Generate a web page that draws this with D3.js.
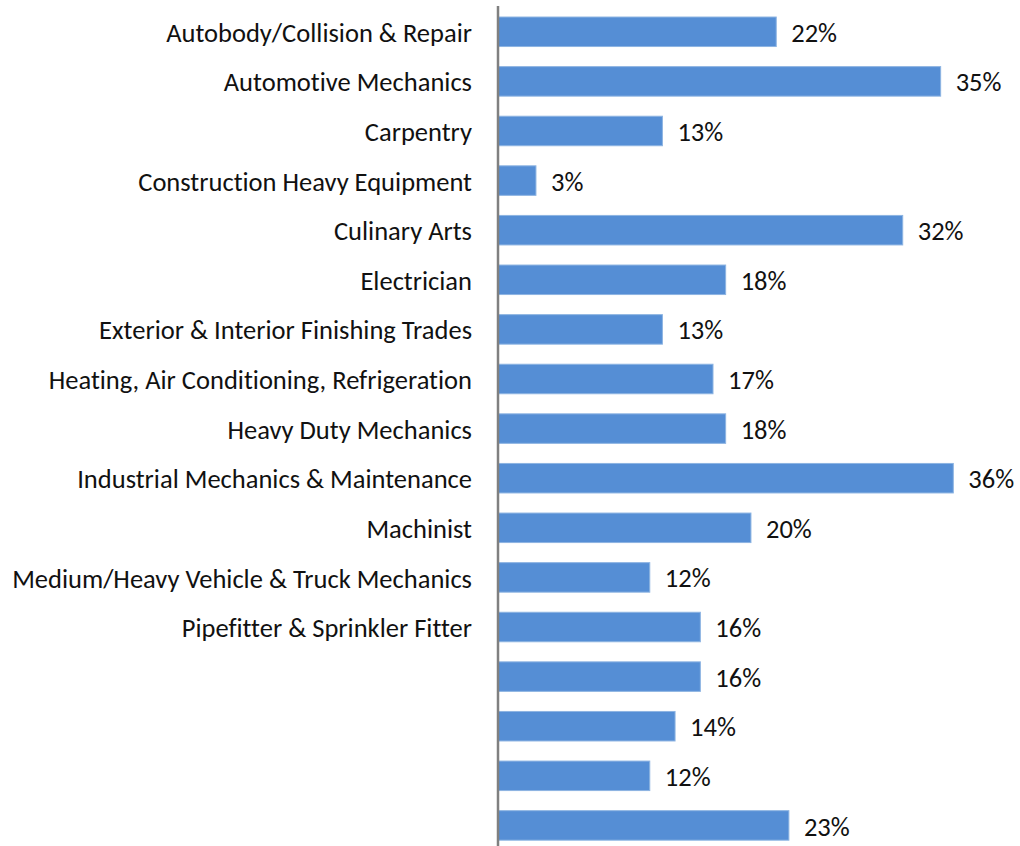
<!DOCTYPE html>
<html>
<head>
<meta charset="utf-8">
<script src="https://cdn.jsdelivr.net/npm/d3@7"></script>
<style>
  html, body { margin: 0; padding: 0; background: #fff; }
  svg { display: block; }
  text { font-variant-ligatures: none; font-feature-settings: "liga" 0, "clig" 0; }
</style>
</head>
<body>
<svg id="chart" width="1020" height="846"></svg>
<script>
const categories = [
  "Autobody/Collision & Repair",
  "Automotive Mechanics",
  "Carpentry",
  "Construction Heavy Equipment",
  "Culinary Arts",
  "Electrician",
  "Exterior & Interior Finishing Trades",
  "Heating, Air Conditioning, Refrigeration",
  "Heavy Duty Mechanics",
  "Industrial Mechanics & Maintenance",
  "Machinist",
  "Medium/Heavy Vehicle & Truck Mechanics",
  "Pipefitter & Sprinkler Fitter",
  "",
  "",
  "",
  ""
];
const values = [22, 35, 13, 3, 32, 18, 13, 17, 18, 36, 20, 12, 16, 16, 14, 12, 23];

const svg = d3.select("#chart");
const x0 = 498;
const x = d3.scaleLinear().domain([0, 36]).range([x0, 953.3]);
const y = d3.scaleBand()
  .domain(d3.range(categories.length))
  .range([7.1, 850.1])
  .paddingInner(0.405)
  .paddingOuter(0.2);

const font = "Carlito, 'Open Sans', sans-serif";

svg.append("g")
  .selectAll("rect")
  .data(values)
  .join("rect")
  .attr("x", x(0) + 0.5)
  .attr("y", (d, i) => y(i))
  .attr("width", d => x(d) - x(0) - 0.5)
  .attr("height", y.bandwidth())
  .attr("fill", "#558ED5")
  .attr("stroke", "#8DB4E2")
  .attr("stroke-width", 1);

const vals = svg.append("g")
  .selectAll("text")
  .data(values)
  .join("text")
  .attr("x", d => x(d) + 15)
  .attr("y", (d, i) => y(i) + y.bandwidth() / 2)
  .attr("dy", "0.38em")
  .attr("font-family", font)
  .attr("font-size", 20)
  .attr("fill", "#111")
  .text(d => d + "%");

const axis = d3.axisLeft(y)
  .tickSize(0)
  .tickPadding(26)
  .tickFormat(i => categories[i]);

const g = svg.append("g")
  .attr("transform", `translate(${x0},0)`)
  .call(axis);
g.select(".domain")
  .attr("stroke", "#808080")
  .attr("stroke-width", 2.5)
  .attr("d", "M0,6V846");
const labels = g.selectAll(".tick text")
  .attr("font-family", font)
  .attr("font-size", 20)
  .attr("dy", "0.38em")
  .attr("fill", "#111");

// fit the font size so the longest category label spans the same width as in the reference
let maxW = 0;
labels.each(function() { maxW = Math.max(maxW, this.getComputedTextLength()); });
const fs = 20 * 460 / maxW;
labels.attr("font-size", fs);
vals.attr("font-size", fs);
</script>
</body>
</html>
